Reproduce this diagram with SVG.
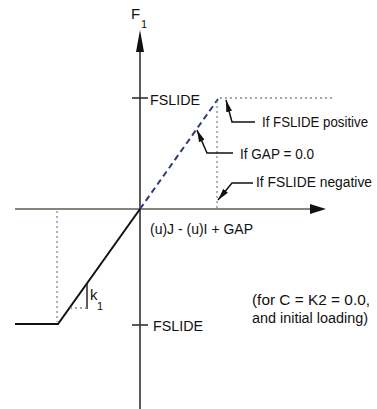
<svg xmlns="http://www.w3.org/2000/svg" width="377" height="409" viewBox="0 0 377 409">
<style>
text{font-family:"Liberation Sans",Arial,sans-serif;font-size:14px;fill:#111}
.sub{font-size:11px}
.axis{stroke:#333;stroke-width:1.6;fill:none}
.haxis{stroke:#85857c;stroke-width:2.2;fill:none}
.dot{stroke:#888;stroke-width:1.3;stroke-dasharray:2 3;fill:none}
.dash{stroke:#2e3a80;stroke-width:2;stroke-dasharray:6 4;fill:none}
.solid{stroke:#111;stroke-width:2;fill:none}
.lead{stroke:#111;stroke-width:1.5;fill:none}
</style>
<defs>
<marker id="ah" viewBox="0 0 12 6" refX="12" refY="3" markerWidth="12" markerHeight="6" markerUnits="userSpaceOnUse" orient="auto">
<path d="M0,0 L12,3 L0,6 Z" fill="#111"/>
</marker>
</defs>
<g id="connectors">
<line class="haxis" x1="15" y1="209" x2="312" y2="209"/>
<path d="M310,204 L326,209 L310,214 Z" fill="#111"/>
<line class="axis" x1="140" y1="48" x2="140" y2="409"/>
<path d="M136,52 L140,30 L144,52 Z" fill="#111"/>
<line class="axis" x1="132" y1="98" x2="148" y2="98"/>
<line class="axis" x1="132" y1="325" x2="148" y2="325"/>
<line class="dash" x1="140" y1="209" x2="218" y2="99"/>
<line class="dot" x1="220" y1="98" x2="332" y2="98"/>
<line class="dot" x1="217" y1="101" x2="217" y2="209"/>
<line class="dot" x1="57" y1="211" x2="57" y2="322"/>
<polyline class="solid" points="140,209 58,324 15,324"/>
<line class="axis" x1="87" y1="284" x2="87" y2="309"/>
<line class="dot" x1="70" y1="308" x2="87" y2="308"/>
<polyline class="lead" points="255,122 232,122 226,100" marker-end="url(#ah)"/>
<polyline class="lead" points="233,153 207,153 197,130" marker-end="url(#ah)"/>
<polyline class="lead" points="253,183 232,183 218,200" marker-end="url(#ah)"/>
</g>
<g id="label-F1"><text x="131" y="19" style="font-size:15px">F</text><text class="sub" x="141" y="28">1</text></g>
<g id="label-fslide-top"><text x="150" y="105" textLength="50" lengthAdjust="spacingAndGlyphs">FSLIDE</text></g>
<g id="label-positive"><text x="262" y="127" textLength="106" lengthAdjust="spacingAndGlyphs">If FSLIDE positive</text></g>
<g id="label-gap"><text x="240" y="159" textLength="74" lengthAdjust="spacingAndGlyphs">If GAP = 0.0</text></g>
<g id="label-negative"><text x="256" y="187" textLength="116" lengthAdjust="spacingAndGlyphs">If FSLIDE negative</text></g>
<g id="label-xaxis"><text x="150" y="234" textLength="103" lengthAdjust="spacingAndGlyphs">(u)J - (u)I + GAP</text></g>
<g id="label-k1"><text x="90" y="300" style="font-size:15px">k</text><text class="sub" x="97" y="310">1</text></g>
<g id="label-fslide-bottom"><text x="153" y="331" textLength="50" lengthAdjust="spacingAndGlyphs">FSLIDE</text></g>
<g id="label-note"><text x="252" y="305" textLength="118" lengthAdjust="spacingAndGlyphs">(for C = K2 = 0.0,</text><text x="252" y="323" textLength="116" lengthAdjust="spacingAndGlyphs">and initial loading)</text></g>
</svg>
